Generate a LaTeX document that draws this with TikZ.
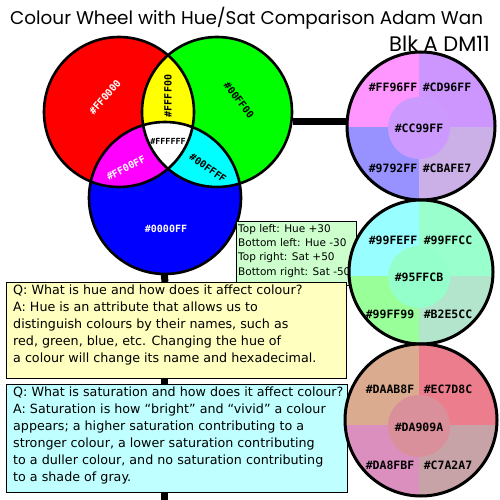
\documentclass[tikz,border=0pt]{standalone}
\usepackage{fontspec}
\setmainfont{DejaVu Sans}
\newfontfamily\pixfont{DejaVu Sans Mono}
\newfontfamily\titlefont{Poppins}
\usetikzlibrary{calc,backgrounds}
\definecolor{vR}{HTML}{FF0000}
\definecolor{vG}{HTML}{00FF00}
\definecolor{vB}{HTML}{0000FF}
\definecolor{vY}{HTML}{FFFF00}
\definecolor{vM}{HTML}{FF00FF}
\definecolor{vC}{HTML}{00FFFF}
\definecolor{aTL}{HTML}{FF96FF}
\definecolor{aTR}{HTML}{CD96FF}
\definecolor{aBL}{HTML}{9792FF}
\definecolor{aBR}{HTML}{CBAFE7}
\definecolor{aC}{HTML}{CC99FF}
\definecolor{bTL}{HTML}{99FEFF}
\definecolor{bTR}{HTML}{99FFCC}
\definecolor{bBL}{HTML}{99FF99}
\definecolor{bBR}{HTML}{B2E5CC}
\definecolor{bC}{HTML}{95FFCB}
\definecolor{cTL}{HTML}{DAAB8F}
\definecolor{cTR}{HTML}{EC7D8C}
\definecolor{cBL}{HTML}{DA8FBF}
\definecolor{cBR}{HTML}{C7A2A7}
\definecolor{cC}{HTML}{DA909A}
\definecolor{legfill}{HTML}{CCFFCC}
\definecolor{huefill}{HTML}{FFFFC0}
\definecolor{satfill}{HTML}{C0FFFF}
\tikzset{
  vennring/.style={circle, draw=black, line width=2.6pt, inner sep=0pt, minimum size=150pt},
  wheel/.style={circle, draw=black, line width=3pt, inner sep=0pt},
  pixw/.style={font=\pixfont\bfseries\fontsize{10}{10}\selectfont, text=white, inner sep=0pt},
  pixk/.style={font=\pixfont\bfseries\fontsize{10}{10}\selectfont, text=black, inner sep=0pt},
  pixl/.style={font=\pixfont\bfseries\fontsize{11.5}{12}\selectfont, text=black, inner sep=0pt},
  conn/.style={line width=7pt, draw=black},
  qbox/.style={draw=black, line width=1pt, anchor=north west, inner sep=0pt},
  qtext/.style={anchor=north west, align=left, inner sep=0pt, font=\fontsize{12.7}{17}\selectfont},
  legtext/.style={anchor=north west, align=left, inner sep=0pt, font=\fontsize{10.5}{14.3}\selectfont}
}
\begin{document}
\begin{tikzpicture}[x=1pt,y=-1pt]
\useasboundingbox (0,0) rectangle (500,500);
% title
\node[font=\titlefont\fontsize{18.4}{20}\selectfont, anchor=west, inner sep=0pt] (title) at (10,18) {Colour Wheel with Hue/Sat Comparison Adam Wan};
\node[font=\titlefont\fontsize{21}{22}\selectfont, anchor=east, inner sep=0pt] (blk) at (490,44) {Blk A DM11};
% Venn fills
\coordinate (rc) at (119,112);
\coordinate (gc) at (217,112);
\coordinate (bc) at (165,198);
\fill[vR] (rc) circle[radius=75];
\fill[vG] (gc) circle[radius=75];
\fill[vB] (bc) circle[radius=76];
\begin{scope}\clip (rc) circle[radius=75]; \fill[vY] (gc) circle[radius=75]; \end{scope}
\begin{scope}\clip (rc) circle[radius=75]; \fill[vM] (bc) circle[radius=76]; \end{scope}
\begin{scope}\clip (gc) circle[radius=75]; \fill[vC] (bc) circle[radius=76]; \end{scope}
\begin{scope}\clip (rc) circle[radius=75]; \clip (gc) circle[radius=75]; \fill[white] (bc) circle[radius=76]; \end{scope}
\node[vennring] (red) at (rc) {};
\node[vennring] (green) at (gc) {};
\node[vennring, minimum size=152pt] (blue) at (bc) {};
% Venn labels
\node[pixw, rotate=49] (lR) at (105,97) {\#FF0000};
\node[pixk, rotate=90] (lY) at (168,96) {\#FFFF00};
\node[pixk, rotate=-52] (lG) at (239,100) {\#00FF00};
\node[pixk, font=\pixfont\bfseries\fontsize{8.4}{9}\selectfont] (lW) at (168,141) {\#FFFFFF};
\node[pixw, rotate=27] (lM) at (126,168) {\#FF00FF};
\node[pixk, rotate=-35] (lC) at (208,168) {\#00FFFF};
\node[pixw] (lB) at (166,229) {\#0000FF};
% legend box
\node[qbox, fill=legfill, minimum width=120pt, minimum height=64pt] (leg) at (236,221) {};
\node[legtext] (legt) at ($(leg.north west)+(2,3)$) {Top left: Hue +30\\Bottom left: Hue -30\\Top right: Sat +50\\Bottom right: Sat -50};
% question boxes
\node[qbox, fill=huefill, minimum width=340pt, minimum height=96pt] (qhue) at (6,282) {};
\node[qtext] (qhuet) at ($(qhue.north west)+(7,3)$) {Q: What is hue and how does it affect colour?\\A: Hue is an attribute that allows us to\\distinguish colours by their names, such as\\red, green, blue, etc. Changing the hue of\\a colour will change its name and hexadecimal.};
\node[qbox, fill=satfill, minimum width=341pt, minimum height=108pt] (qsat) at (6,384) {};
\node[qtext] (qsatt) at ($(qsat.north west)+(7,3)$) {Q: What is saturation and how does it affect colour?\\A: Saturation is how “bright” and “vivid” a colour\\appears; a higher saturation contributing to a\\stronger colour, a lower saturation contributing\\to a duller colour, and no saturation contributing\\to a shade of gray.};
% wheel 1
\begin{scope}
\clip (421,126) circle[radius=74];
\fill[aTL] (340,40) rectangle (419,127);
\fill[aTR] (419,40) rectangle (500,127);
\fill[aBL] (340,127) rectangle (419,210);
\fill[aBR] (419,127) rectangle (500,210);
\fill[aC] (419,128) circle[radius=31];
\end{scope}
\node[wheel, minimum size=148pt] (w1) at (421,126) {};
% wheel 2
\begin{scope}
\clip (421,272) circle[radius=72];
\fill[bTL] (340,190) rectangle (419,276);
\fill[bTR] (419,190) rectangle (500,276);
\fill[bBL] (340,276) rectangle (419,350);
\fill[bBR] (419,276) rectangle (500,350);
\fill[bC] (419,277) circle[radius=31];
\end{scope}
\node[wheel, minimum size=144pt] (w2) at (421,272) {};
% wheel 3
\begin{scope}
\clip (421,420) circle[radius=76];
\fill[cTL] (340,340) rectangle (419,425);
\fill[cTR] (419,340) rectangle (500,425);
\fill[cBL] (340,425) rectangle (419,500);
\fill[cBR] (419,425) rectangle (500,500);
\fill[cC] (419,426) circle[radius=31];
\end{scope}
\node[wheel, minimum size=152pt] (w3) at (421,420) {};
% wheel labels
\node[pixl] (a1) at (393,87) {\#FF96FF};
\node[pixl] (a2) at (447,87) {\#CD96FF};
\node[pixl] (a3) at (419,128) {\#CC99FF};
\node[pixl] (a4) at (393,168) {\#9792FF};
\node[pixl] (a5) at (447,168) {\#CBAFE7};
\node[pixl] (b1) at (393,240) {\#99FEFF};
\node[pixl] (b2) at (448,240) {\#99FFCC};
\node[pixl] (b3) at (419,277) {\#95FFCB};
\node[pixl] (b4) at (390,314) {\#99FF99};
\node[pixl] (b5) at (448,314) {\#B2E5CC};
\node[pixl] (c1) at (390,389) {\#DAAB8F};
\node[pixl] (c2) at (448,389) {\#EC7D8C};
\node[pixl] (c3) at (419,427) {\#DA909A};
\node[pixl] (c4) at (390,465) {\#DA8FBF};
\node[pixl] (c5) at (448,465) {\#C7A2A7};
\coordinate (bottom) at (164,500);
% connectors behind
\begin{scope}[on background layer]
\fill[white] (0,0) rectangle (500,500);
\draw[conn] (green.-7) -- (green.-7 -| w1.west);
\draw[conn] ($(blue.south)+(-1,-4)$) -- (blue.south |- qhue.north);
\draw[conn] (qhue.south -| bottom) -- (qsat.north -| bottom);
\draw[conn] (qsat.south -| bottom) -- (bottom);
\end{scope}
\end{tikzpicture}
\end{document}
